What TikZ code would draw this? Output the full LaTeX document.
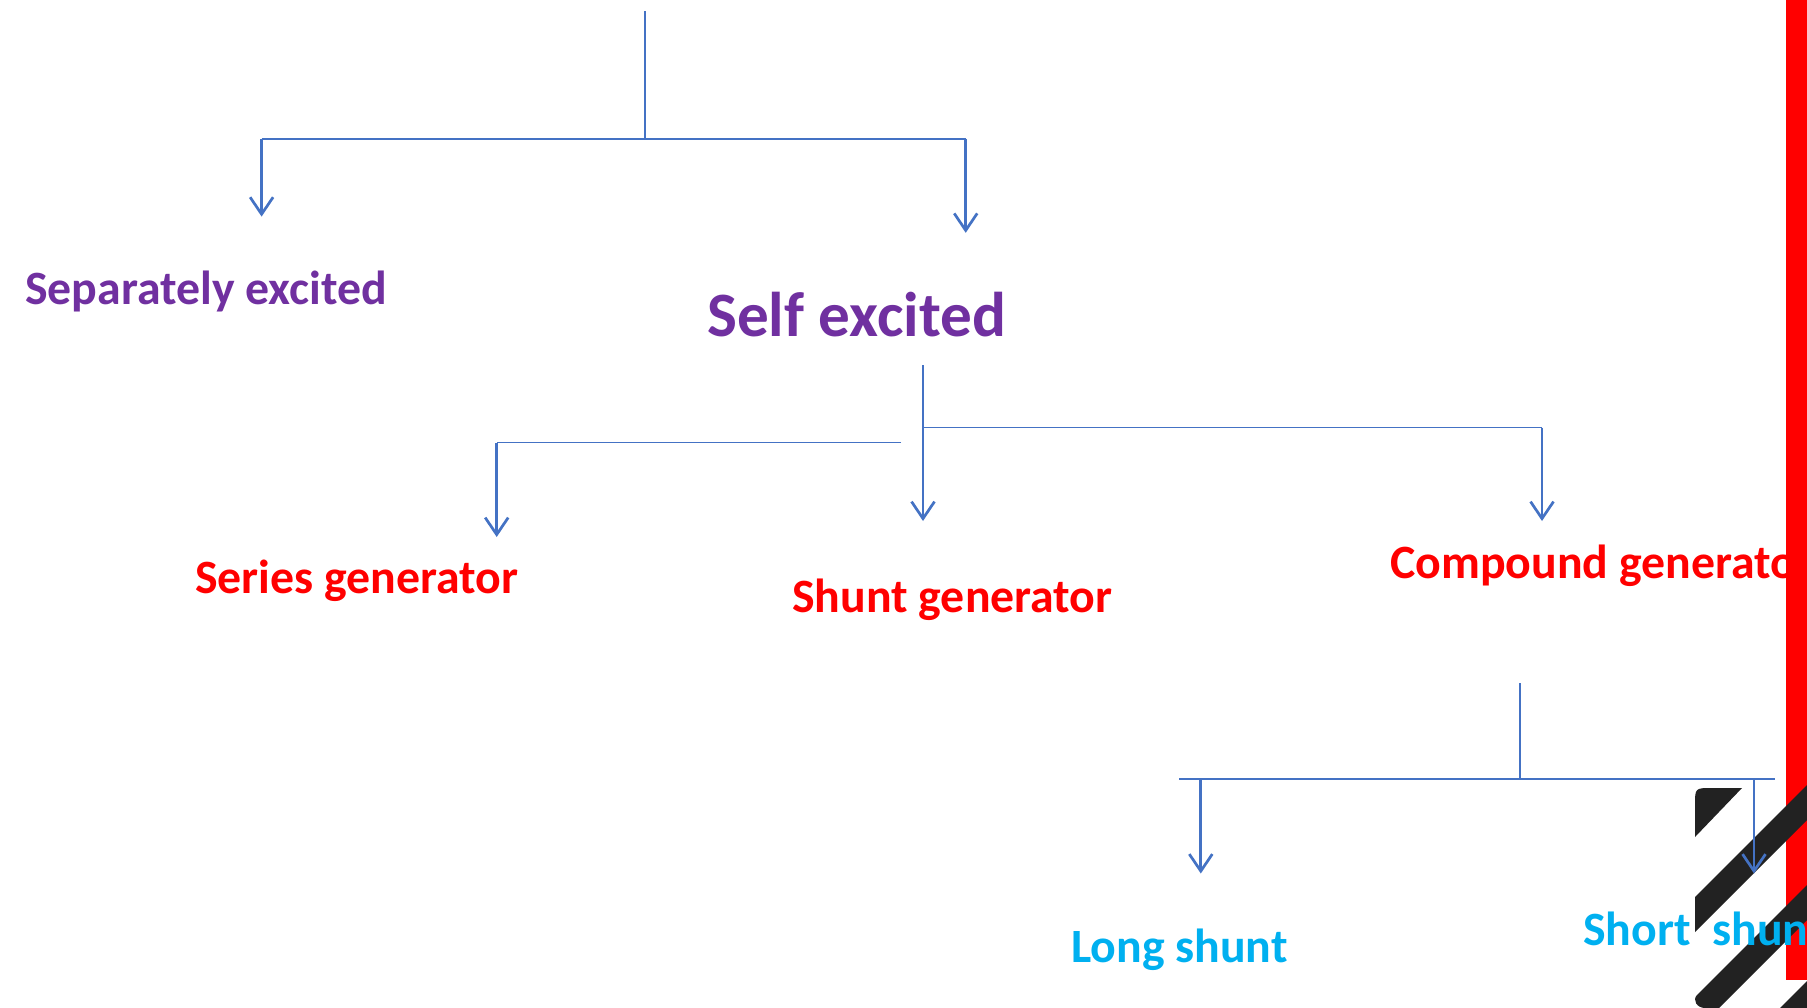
\documentclass[tikz,border=0pt]{standalone}
\usepackage{fontspec}
\setmainfont{Carlito}
\usetikzlibrary{arrows.meta}
\definecolor{conn}{HTML}{4472C4}
\definecolor{purp}{HTML}{7030A0}
\definecolor{cyanb}{HTML}{00B0F0}
\definecolor{stripe}{HTML}{222222}
\tikzset{
  lbl/.style={inner sep=0pt, anchor=base west, font=\fontsize{47.8}{56}\selectfont\bfseries},
  big/.style={font=\fontsize{63.2}{74}\selectfont\bfseries},
  ln/.style={draw=conn, line width=1.6pt},
  arr/.style={draw=conn, line width=2.7pt, -{Straight Barb[length=17pt,width=23pt]}},
  stripefill/.style={fill=stripe}
}
\begin{document}
\begin{tikzpicture}[x=1pt,y=-1pt]
\useasboundingbox (0,0) rectangle (1807,1008);
\fill[white] (0,0) rectangle (1807,1008);

% labels
\node[lbl, text=purp] (sep) at (25,305) {Separately excited};
\node[lbl, big, text=purp] (self) at (707,337) {Self excited};
\node[lbl, text=red] (series) at (195,593) {Series generator};
\node[lbl, text=red] (shunt) at (792,612) {Shunt generator};
\node[lbl, text=red] (comp) at (1390,578.5) {Compound generator};

% red bar
\fill[red] (1786,0) rectangle (1807,980);

% stripes
\fill[stripefill] (1742,788) -- (1712,788) .. controls (1695,788) .. (1695,805) -- (1695,837) -- cycle;
\fill[stripefill] (1695,897) -- (1807,785) -- (1807,820) -- (1695,932) -- cycle;
\fill[stripefill] (1807,885) -- (1697,995) .. controls (1692,1000) and (1697,1008) .. (1705,1008) -- (1719,1008) -- (1807,920) -- cycle;
\fill[stripefill] (1780,1008) -- (1807,981) -- (1807,1008) -- cycle;

\node[lbl, text=cyanb] (long) at (1071,962) {Long shunt};
\node[lbl, text=cyanb] (short) at (1583,945) {Short\ \ shunt};

% level 1
\coordinate (r0) at (645,11.5);
\coordinate (r1) at (645,139);
\coordinate (hL) at (261.6,139);
\coordinate (hR) at (965.7,139);
\coordinate (tL) at (261.6,216.6);
\coordinate (tR) at (965.7,232.8);
\draw[ln] (r0) -- (r1);
\draw[ln] (hL) -- (hR);
\draw[arr] (hL) -- (tL);
\draw[arr] (hR) -- (tR);

% level 2
\coordinate (s0) at (923,365);
\coordinate (s1) at (923,427.5);
\coordinate (s2) at (1542,427.5);
\coordinate (sT1) at (923,521);
\coordinate (sT2) at (1542,521);
\coordinate (l0) at (901,442.5);
\coordinate (l1) at (496.7,442.5);
\coordinate (lT) at (496.7,537);
\draw[ln] (s0) -- (s1) -- (s2);
\draw[arr] (s1) -- (sT1);
\draw[arr] (s2) -- (sT2);
\draw[ln] (l0) -- (l1);
\draw[arr] (l1) -- (lT);

% level 3
\coordinate (c0) at (1520,683.4);
\coordinate (c1) at (1520,779);
\coordinate (cL) at (1179,779);
\coordinate (cR) at (1775,779);
\coordinate (a1) at (1200.8,779);
\coordinate (a1T) at (1200.8,873.5);
\coordinate (a2) at (1754,779);
\coordinate (a2T) at (1754,873.5);
\draw[ln] (c0) -- (c1);
\draw[ln] (cL) -- (cR);
\draw[arr] (a1) -- (a1T);
\draw[arr] (a2) -- (a2T);
\end{tikzpicture}
\end{document}
